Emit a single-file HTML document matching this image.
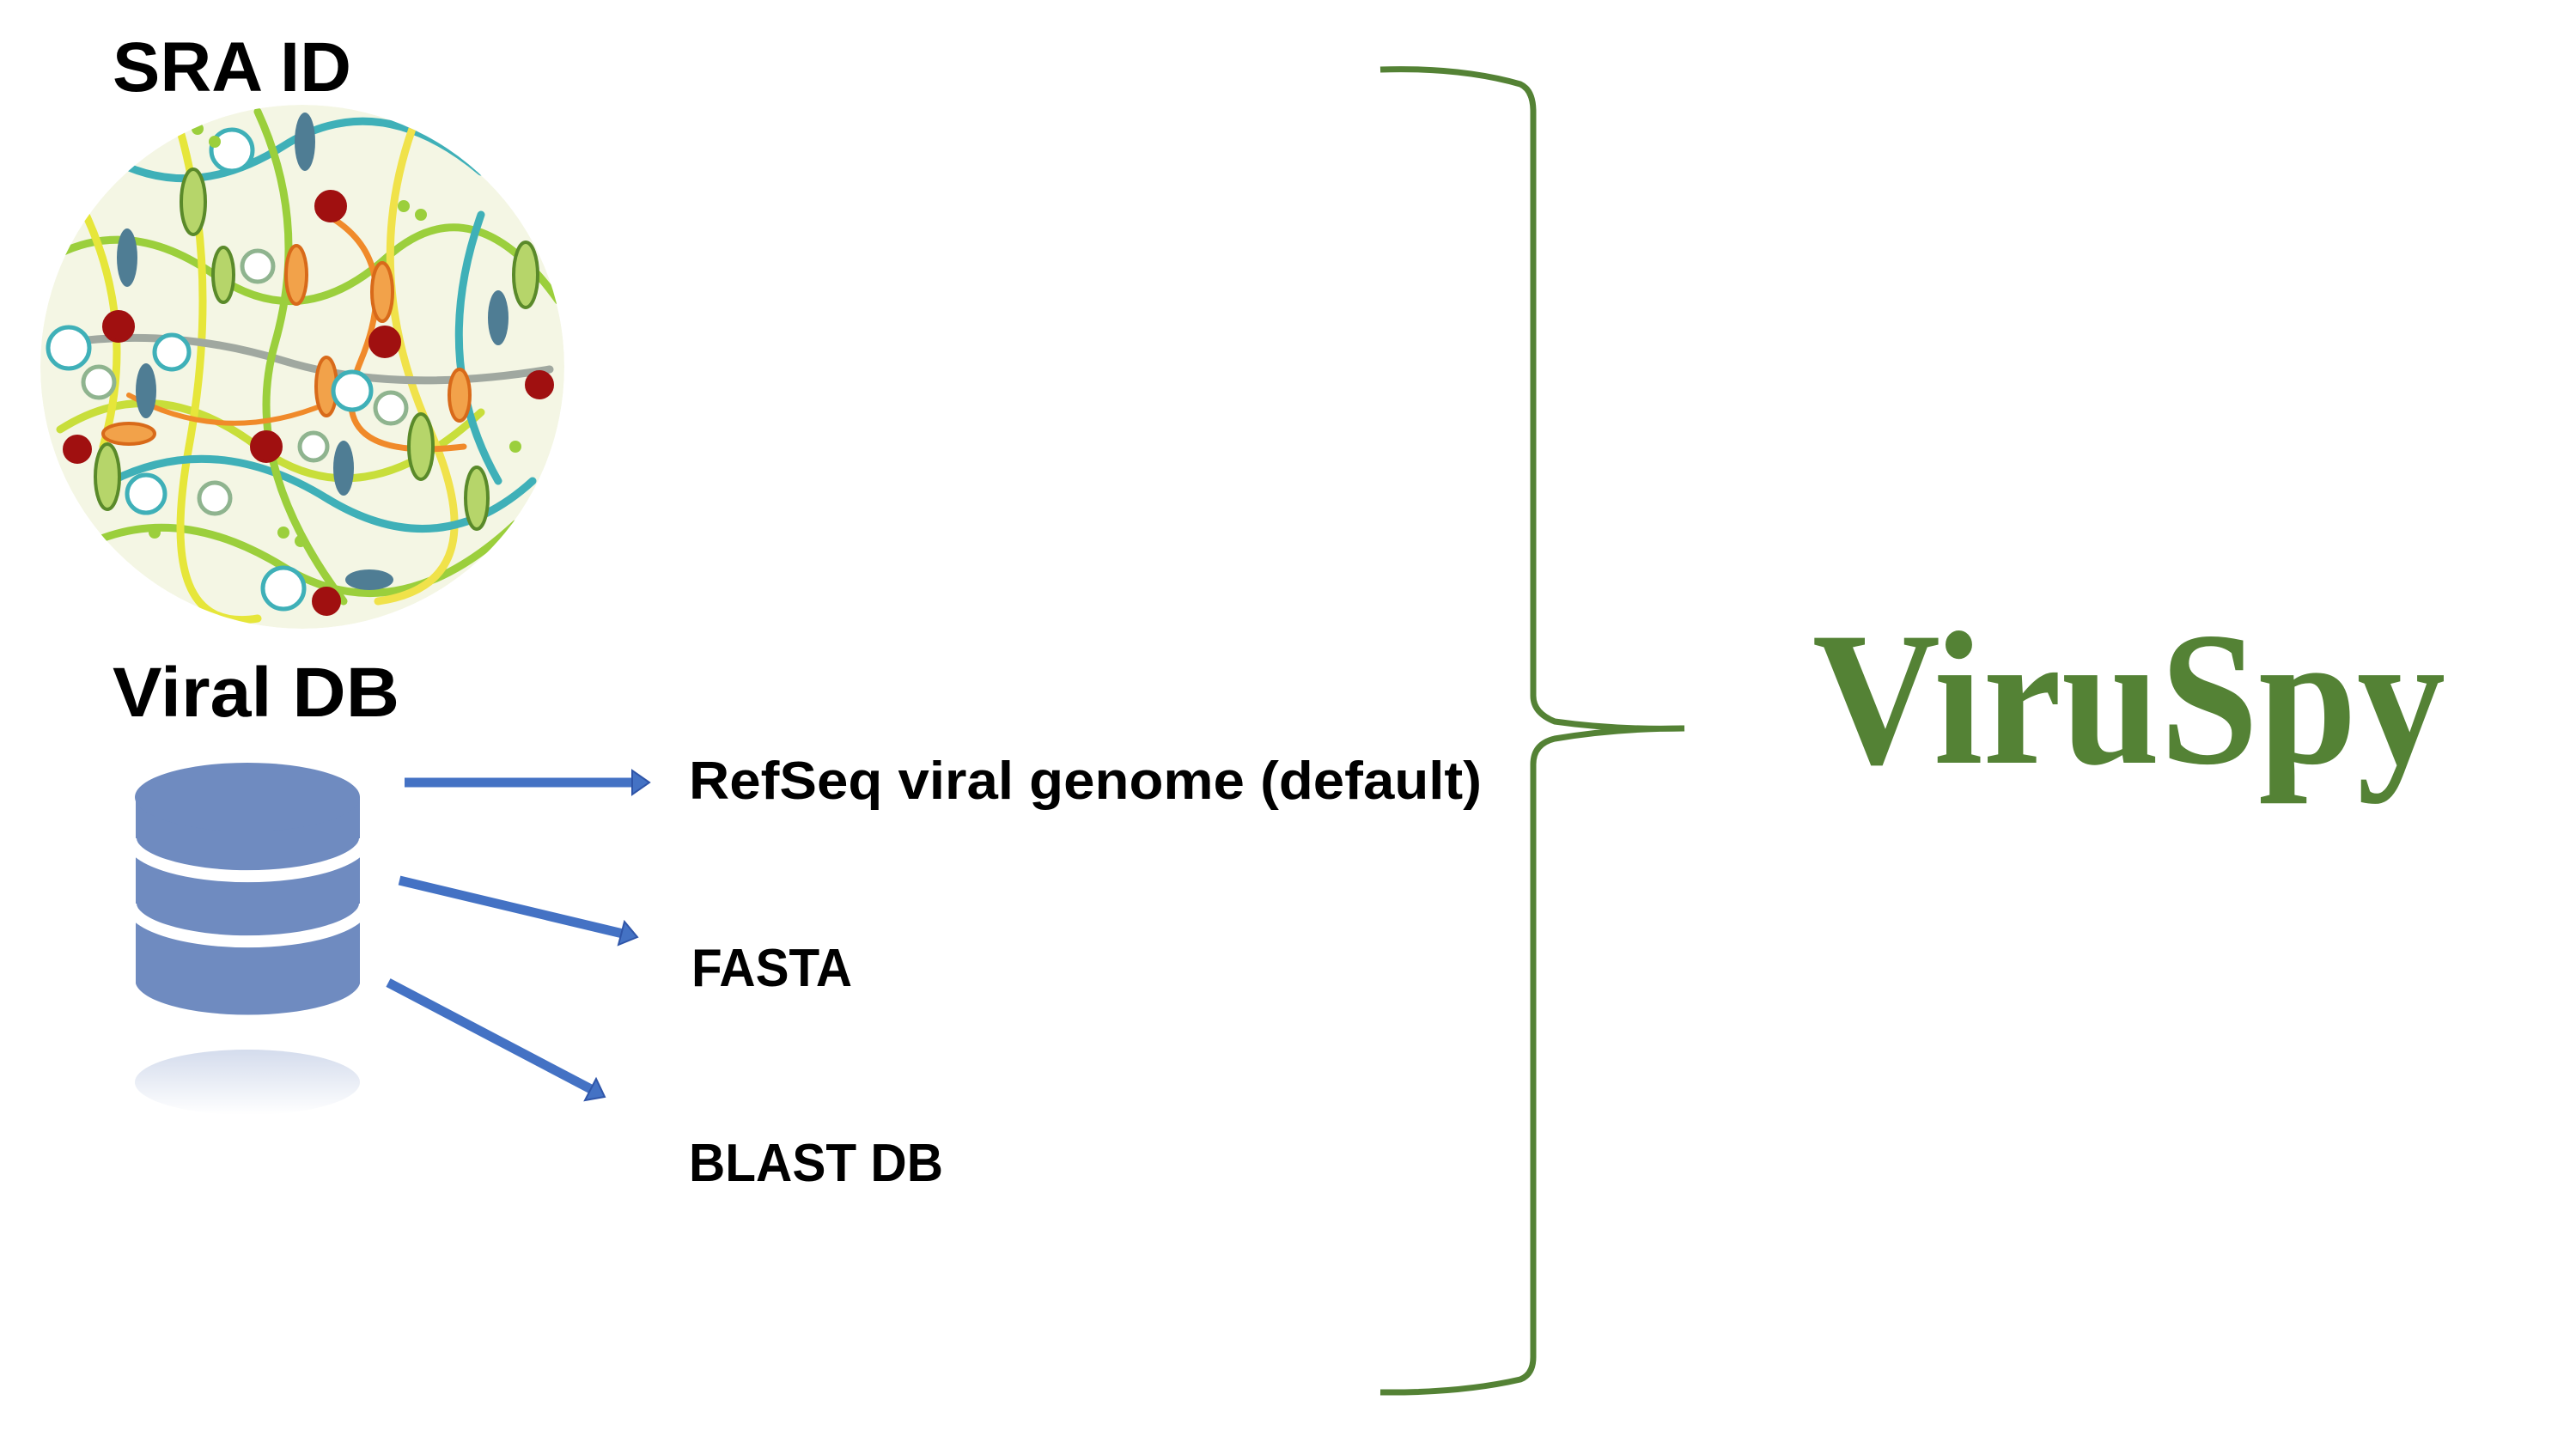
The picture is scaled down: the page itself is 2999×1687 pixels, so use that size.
<!DOCTYPE html>
<html><head><meta charset="utf-8"><style>
html,body{margin:0;padding:0;background:#fff}
svg{display:block}
</style></head><body>
<svg width="2999" height="1687" viewBox="0 0 2999 1687" xmlns="http://www.w3.org/2000/svg">
<defs>
<clipPath id="cc"><circle cx="352" cy="427" r="305"/></clipPath>
<linearGradient id="refl" x1="0" y1="0" x2="0" y2="1">
<stop offset="0" stop-color="#c9d3e8"/><stop offset="1" stop-color="#ffffff"/>
</linearGradient>
</defs>
<g font-family="'Liberation Sans', sans-serif" font-weight="bold" fill="#000">
<text x="131" y="106" font-size="82" textLength="278" lengthAdjust="spacingAndGlyphs">SRA ID</text>
<text x="131" y="834" font-size="82" textLength="334" lengthAdjust="spacingAndGlyphs">Viral DB</text>
<text x="802" y="930" font-size="62" textLength="923" lengthAdjust="spacingAndGlyphs">RefSeq viral genome (default)</text>
<text x="805" y="1148" font-size="62" textLength="187" lengthAdjust="spacingAndGlyphs">FASTA</text>
<text x="802" y="1375" font-size="62" textLength="296" lengthAdjust="spacingAndGlyphs">BLAST DB</text>
</g>
<g clip-path="url(#cc)">
<circle cx="352" cy="427" r="305" fill="#f4f6e4"/>
<g fill="none" stroke-width="9" stroke-linecap="round">
<path d="M60 300 Q150 250 250 320 T450 300 T650 350" stroke="#9bcf3c"/>
<path d="M70 500 Q180 430 300 520 T560 480" stroke="#c8de3a"/>
<path d="M120 180 Q220 240 330 170 T560 200" stroke="#3fb0b8"/>
<path d="M90 640 Q200 580 330 660 T600 610" stroke="#9bcf3c"/>
<path d="M200 120 Q260 300 220 520 T300 720" stroke="#e6e63a"/>
<path d="M480 150 Q420 320 500 500 T440 700" stroke="#f0e24a"/>
<path d="M70 400 Q200 380 330 420 T640 430" stroke="#a0a8a0"/>
<path d="M130 560 Q250 500 380 580 T620 560" stroke="#3fb0b8"/>
<path d="M300 130 Q360 260 320 400 T400 700" stroke="#9bcf3c"/>
<path d="M560 250 Q500 420 580 560" stroke="#3fb0b8"/>
<path d="M100 250 Q160 380 120 520" stroke="#e6e63a"/>
<path d="M380 250 Q470 300 420 420 T540 520" stroke="#f08a2a" stroke-width="7"/>
<path d="M150 460 Q260 520 380 470" stroke="#f08a2a" stroke-width="6"/>
</g>
<g stroke="#5a8a2a" stroke-width="4">
<ellipse cx="225" cy="235" rx="14" ry="38" fill="#b6d56a"/>
<ellipse cx="612" cy="320" rx="14" ry="38" fill="#b6d56a"/>
<ellipse cx="490" cy="520" rx="14" ry="38" fill="#b6d56a"/>
<ellipse cx="125" cy="555" rx="14" ry="38" fill="#b6d56a"/>
<ellipse cx="260" cy="320" rx="12" ry="32" fill="#b6d56a"/>
<ellipse cx="555" cy="580" rx="13" ry="36" fill="#b6d56a"/>
</g>
<g stroke="#d86a1a" stroke-width="4" fill="#f2a24a">
<ellipse cx="345" cy="320" rx="12" ry="34"/>
<ellipse cx="445" cy="340" rx="12" ry="34"/>
<ellipse cx="380" cy="450" rx="12" ry="34"/>
<ellipse cx="535" cy="460" rx="12" ry="30"/>
<ellipse cx="150" cy="505" rx="30" ry="12"/>
</g>
<g fill="#4f7d94">
<ellipse cx="355" cy="165" rx="12" ry="34"/>
<ellipse cx="148" cy="300" rx="12" ry="34"/>
<ellipse cx="170" cy="455" rx="12" ry="32"/>
<ellipse cx="580" cy="370" rx="12" ry="32"/>
<ellipse cx="400" cy="545" rx="12" ry="32"/>
<ellipse cx="430" cy="675" rx="28" ry="12"/>
</g>
<g fill="#fff" stroke="#3fb0b8" stroke-width="5">
<circle cx="270" cy="175" r="24"/><circle cx="80" cy="405" r="24"/>
<circle cx="200" cy="410" r="20"/><circle cx="410" cy="455" r="22"/>
<circle cx="170" cy="575" r="22"/><circle cx="330" cy="685" r="24"/>
</g>
<g fill="#fff" stroke="#8fb48f" stroke-width="5">
<circle cx="300" cy="310" r="18"/><circle cx="115" cy="445" r="18"/>
<circle cx="455" cy="475" r="18"/><circle cx="250" cy="580" r="18"/>
<circle cx="365" cy="520" r="16"/>
</g>
<g fill="#a01010" stroke="#a01010" stroke-width="4">
<circle cx="385" cy="240" r="17"/><circle cx="138" cy="380" r="17"/>
<circle cx="448" cy="398" r="17"/><circle cx="628" cy="448" r="15"/>
<circle cx="90" cy="523" r="15"/><circle cx="310" cy="520" r="17"/>
<circle cx="380" cy="700" r="15"/>
</g>
<g fill="#9bcf3c">
<circle cx="230" cy="150" r="7"/><circle cx="250" cy="165" r="7"/><circle cx="470" cy="240" r="7"/><circle cx="490" cy="250" r="7"/>
<circle cx="330" cy="620" r="7"/><circle cx="350" cy="630" r="7"/><circle cx="600" cy="520" r="7"/><circle cx="180" cy="620" r="7"/>
</g>
</g>
<!-- database -->
<path d="M158 928 L158 1145 A131 40 0 0 0 419 1145 L419 928 Z" fill="#6f8bc0"/>
<ellipse cx="288" cy="928" rx="131" ry="40" fill="#6f8bc0"/>
<g fill="none" stroke="#fff" stroke-width="14">
<path d="M152 976 A136 44 0 0 0 425 976"/>
<path d="M152 1052 A136 44 0 0 0 425 1052"/>
</g>
<ellipse cx="288" cy="1260" rx="131" ry="38" fill="url(#refl)" opacity="0.8"/>
<!-- arrows -->
<g stroke="#4472c4" stroke-width="11" fill="none">
<line x1="471" y1="911" x2="742" y2="911"/>
<line x1="465" y1="1025" x2="725" y2="1087"/>
<line x1="452" y1="1144" x2="688" y2="1268"/>
</g>
<g fill="#4472c4" stroke="#2f55a8" stroke-width="2">
<polygon points="756,911 736,897 736,925"/>
<polygon points="742,1091 727,1073 720,1100"/>
<polygon points="704,1277 694,1256 681,1281"/>
</g>
<!-- brace -->
<path d="M1607 81 Q1700 78 1770 98 Q1785 105 1785 130 L1785 810 Q1785 830 1810 840 Q1880 850 1961 848 M1961 848 Q1880 848 1810 860 Q1785 866 1785 890 L1785 1580 Q1785 1600 1770 1606 Q1700 1622 1607 1621" fill="none" stroke="#548235" stroke-width="7"/>
<text x="2110" y="888" font-family="'Liberation Serif', serif" font-weight="bold" font-size="222" fill="#548235" textLength="737" lengthAdjust="spacingAndGlyphs">ViruSpy</text>
</svg>
</body></html>
